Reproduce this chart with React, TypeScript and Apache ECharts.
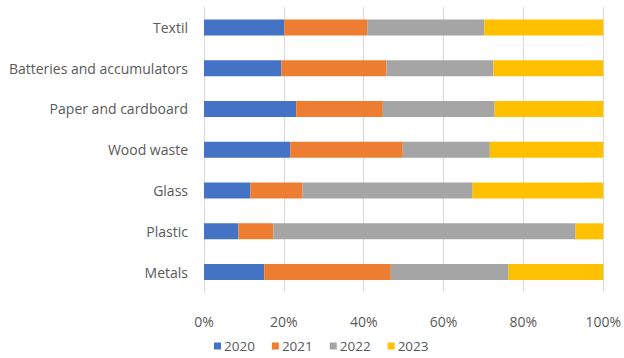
import React, { useEffect, useRef } from "react";
import * as echarts from "echarts";

const categories = ["Metals", "Plastic", "Glass", "Wood waste", "Paper and cardboard", "Batteries and accumulators", "Textil"];
const seriesNames = ["2020", "2021", "2022", "2023"];
const v2020 = [15.1, 8.6, 11.6, 21.6, 23.1, 19.4, 20.1];
const v2021 = [31.7, 8.8, 13.0, 28.2, 21.7, 26.3, 20.9];
const v2022 = [29.5, 75.7, 42.7, 21.8, 28.0, 26.8, 29.2];
const v2023 = [23.7, 6.9, 32.7, 28.4, 27.2, 27.5, 29.8];
const colors = ["#4472C4", "#ED7D31", "#A5A5A5", "#FFC000"];
const xTicks = [0, 20, 40, 60, 80, 100];

export default function App() {
  const ref = useRef<HTMLDivElement>(null);
  useEffect(() => {
    if (!ref.current) return;
    const chart = echarts.init(ref.current, undefined, { renderer: "svg" });
    const data = [v2020, v2021, v2022, v2023];
    const font = "Open Sans";
    chart.setOption({
      animation: false,
      color: colors,
      textStyle: { fontFamily: font },
      grid: { left: 204, right: 19, top: 7, bottom: 65.5, containLabel: false },
      legend: {
        data: seriesNames,
        bottom: 0,
        left: 209,
        itemWidth: 7,
        itemHeight: 7,
        itemGap: 17,
        icon: "rect",
        textStyle: { color: "#595959", fontSize: 13.5, fontFamily: font, padding: [0, 0, 0, -2] },
      },
      xAxis: {
        type: "value",
        min: 0,
        max: 100,
        interval: 20,
        axisLine: { show: false },
        axisTick: { show: false },
        splitLine: { show: true, lineStyle: { color: "#d9d9d9", width: 1 } },
        axisLabel: {
          color: "#595959",
          fontSize: 14,
          fontFamily: font,
          margin: 22,
          formatter: (v: number) => (xTicks.includes(v) ? v + "%" : ""),
        },
      },
      yAxis: {
        type: "category",
        data: categories,
        axisLine: { show: true, lineStyle: { color: "#d9d9d9" } },
        axisTick: { show: false },
        axisLabel: { color: "#595959", fontSize: 14, fontFamily: font, margin: 16 },
      },
      series: seriesNames.map((n, i) => ({
        name: n,
        type: "bar",
        stack: "total",
        barWidth: 16,
        data: data[i],
        itemStyle: { color: colors[i] },
      })),
    });
    return () => chart.dispose();
  }, []);
  return <div ref={ref} style={{ width: 624, height: 358, position: "absolute", left: 0, top: 0 }} />;
}
